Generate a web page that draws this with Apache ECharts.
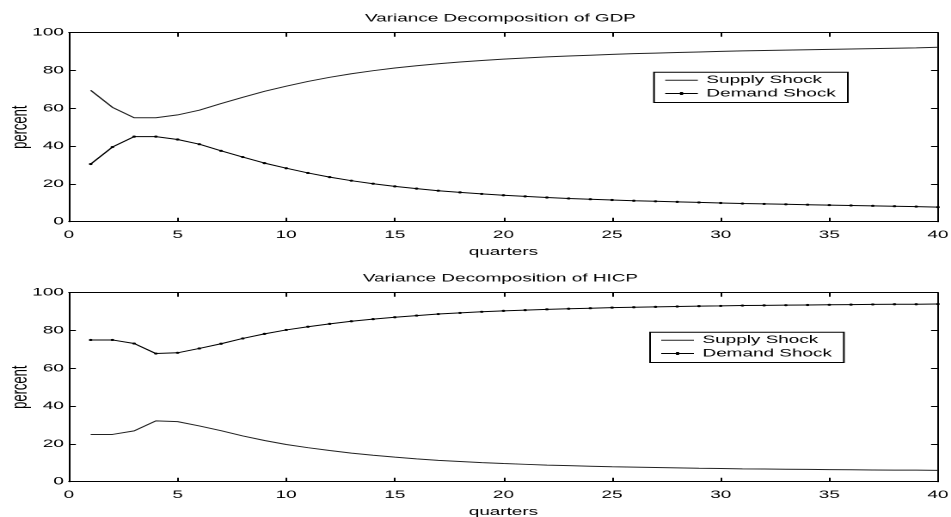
<!DOCTYPE html>
<html>
<head>
<meta charset="utf-8">
<script src="https://cdn.jsdelivr.net/npm/echarts@6/dist/echarts.min.js"></script>
<style>
html,body{margin:0;padding:0;background:#fff;overflow:hidden;}
#wrap{width:951px;height:517px;overflow:hidden;position:relative;}
#main{width:553px;height:517px;transform:scaleX(1.7197);transform-origin:0 0;}
</style>
</head>
<body>
<div id="wrap"><div id="main"></div></div>
<script>
var quarters = [1,2,3,4,5,6,7,8,9,10,11,12,13,14,15,16,17,18,19,20,21,22,23,24,25,26,27,28,29,30,31,32,33,34,35,36,37,38,39,40];
var xTicks = [0,5,10,15,20,25,30,35,40];
var yTicks = [0,20,40,60,80,100];
var titles = ['Variance Decomposition of GDP', 'Variance Decomposition of HICP'];
var seriesNames = ['Supply Shock', 'Demand Shock'];

var gdpSupply = [69.5,60.5,55.0,55.0,56.5,59.0,62.5,65.8,69.0,71.7,74.2,76.4,78.3,79.9,81.3,82.5,83.6,84.5,85.3,86.0,86.6,87.2,87.7,88.1,88.5,88.9,89.2,89.5,89.8,90.1,90.4,90.6,90.8,91.0,91.2,91.4,91.6,91.8,92.0,92.3];
var gdpDemand = [30.5,39.5,45.0,45.0,43.5,41.0,37.5,34.2,31.0,28.3,25.8,23.6,21.7,20.1,18.7,17.5,16.4,15.5,14.7,14.0,13.4,12.8,12.3,11.9,11.5,11.1,10.8,10.5,10.2,9.9,9.6,9.4,9.2,9.0,8.8,8.6,8.4,8.2,8.0,7.7];
var hicpSupply = [25.0,25.0,26.9,32.2,31.8,29.5,27.0,24.2,21.8,19.7,18.0,16.5,15.1,14.0,13.0,12.1,11.3,10.7,10.1,9.6,9.2,8.8,8.5,8.2,7.9,7.7,7.5,7.3,7.1,7.0,6.8,6.7,6.6,6.5,6.4,6.3,6.2,6.1,6.1,6.0];
var hicpDemand = [75.0,75.0,73.1,67.8,68.2,70.5,73.0,75.8,78.2,80.3,82.0,83.5,84.9,86.0,87.0,87.9,88.7,89.3,89.9,90.4,90.8,91.2,91.5,91.8,92.1,92.3,92.5,92.7,92.9,93.0,93.2,93.3,93.4,93.5,93.6,93.7,93.8,93.9,93.9,94.0];

function pairs(xs, ys){ return xs.map(function(x,i){ return [x, ys[i]]; }); }

var FONT = 'Liberation Sans';
var gridTops = [32.7, 292.7];
var legendPos = [[380.3, 72.2],[378, 332.2]];
var panels = [[gdpSupply, gdpDemand],[hicpSupply, hicpDemand]];
var dotLineIcon = 'path://M0,1H19V2H0ZM8.6,0H10.4V3H8.6Z';

var option = {
  animation: false,
  backgroundColor: '#fff',
  textStyle: {fontFamily: FONT, color: '#000'},
  title: [], grid: [], xAxis: [], yAxis: [], legend: [], series: []
};

for (var p = 0; p < 2; p++) {
  option.title.push({
    text: titles[p], left: 291, top: gridTops[p] - 19.5, textAlign: 'center', padding: 0,
    textStyle: {fontFamily: FONT, fontSize: 11, fontWeight: 'normal', color: '#000'}
  });
  option.grid.push({left: 40.1, right: 7.6, top: gridTops[p], height: 189, show: false,
    containLabel: false, outerBoundsMode: 'none'});
  var axisCommon = {
    gridIndex: p, type: 'value', min: 0,
    axisLine: {show: true, onZero: false, lineStyle: {color: '#000', width: 1}},
    axisTick: {show: true, inside: true, length: 4, lineStyle: {color: '#000', width: 1}},
    splitLine: {show: false}
  };
  option.xAxis.push(Object.assign({}, axisCommon, {
    position: 'bottom', max: 40, interval: 5,
    name: 'quarters', nameLocation: 'middle', nameGap: 25,
    nameTextStyle: {fontFamily: FONT, fontSize: 11, color: '#000'},
    axisLabel: {show: true, margin: 8, fontFamily: FONT, fontSize: 11, color: '#000'}
  }));
  option.xAxis.push(Object.assign({}, axisCommon, {
    position: 'top', max: 40, interval: 5, axisLabel: {show: false}
  }));
  option.yAxis.push(Object.assign({}, axisCommon, {
    position: 'left', max: 100, interval: 20,
    name: 'percent', nameLocation: 'middle', nameGap: 21.6, nameRotate: 90, nameMoveOverlap: false,
    nameTextStyle: {fontFamily: FONT, fontSize: 13, color: '#000'},
    axisLabel: {show: true, margin: 3, fontFamily: FONT, fontSize: 11, color: '#000'}
  }));
  option.yAxis.push(Object.assign({}, axisCommon, {
    position: 'right', max: 100, interval: 20, axisLabel: {show: false}
  }));
  option.legend.push({
    orient: 'vertical', left: legendPos[p][0], top: legendPos[p][1],
    data: [
      {name: seriesNames[0], icon: 'line', itemStyle: {borderColor: '#222', borderWidth: 1, color: '#222'}},
      {name: seriesNames[1], icon: dotLineIcon, itemStyle: {color: '#000', borderWidth: 0}}
    ],
    borderColor: '#000', borderWidth: 1, borderRadius: 0,
    padding: [2, 7, 3, 6], itemGap: 1.3, itemWidth: 19, itemHeight: 3,
    textStyle: {fontFamily: FONT, fontSize: 11, lineHeight: 12, color: '#000'},
    backgroundColor: '#fff'
  });
  option.series.push({
    name: seriesNames[0], type: 'line', xAxisIndex: 2*p, yAxisIndex: 2*p,
    data: pairs(quarters, panels[p][0]), symbol: 'none', showSymbol: false,
    lineStyle: {color: '#222', width: 1}, itemStyle: {color: '#222'}
  });
  option.series.push({
    name: seriesNames[1], type: 'line', xAxisIndex: 2*p, yAxisIndex: 2*p,
    data: pairs(quarters, panels[p][1]), symbol: 'circle', symbolSize: 2.2, showSymbol: true,
    lineStyle: {color: '#000', width: 1}, itemStyle: {color: '#000'}
  });
}

var chart = echarts.init(document.getElementById('main'), null, {renderer: 'canvas', devicePixelRatio: 2});
chart.setOption(option);
</script>
</body>
</html>
